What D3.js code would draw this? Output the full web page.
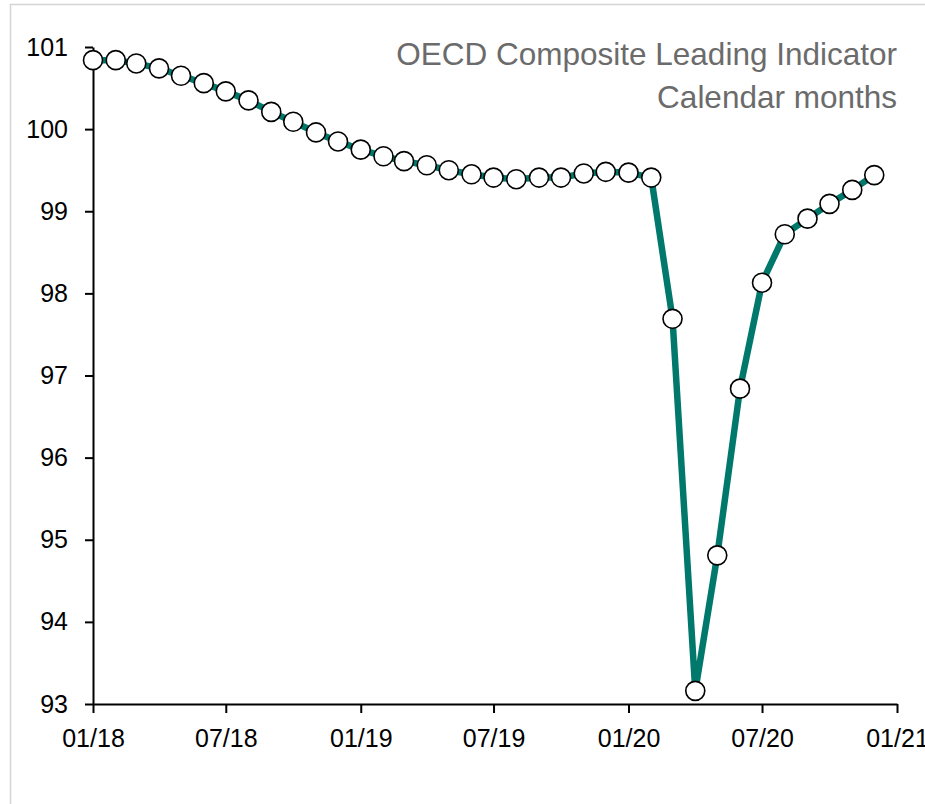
<!DOCTYPE html>
<html>
<head>
<meta charset="utf-8">
<script src="https://cdn.jsdelivr.net/npm/d3@7"></script>
<style>
  body { margin: 0; background: #fff; }
  svg { display: block; font-family: Arial, "Liberation Sans", sans-serif; }
</style>
</head>
<body>
<div id="chart"></div>
<script>
// monthly values, 01/2018 .. 12/2020
var startMonth = "2018-01";
var values = [100.84, 100.84, 100.80, 100.74, 100.65, 100.56, 100.46, 100.35, 100.21, 100.09,
              99.96, 99.85, 99.75, 99.67, 99.61, 99.56, 99.50, 99.45, 99.41, 99.39,
              99.41, 99.41, 99.46, 99.48, 99.47, 99.41, 97.69, 93.16, 94.81, 96.84,
              98.13, 98.72, 98.91, 99.09, 99.26, 99.44];
var xTicks = ["2018-01", "2018-07", "2019-01", "2019-07", "2020-01", "2020-07", "2021-01"];
var yTicks = [93, 94, 95, 96, 97, 98, 99, 100, 101];
var titleLines = ["OECD Composite Leading Indicator", "Calendar months"];

var w = 925, h = 804;
var parse = d3.timeParse("%Y-%m");
var start = parse(startMonth);
var data = values.map(function(v, i) {
    return { date: d3.timeMonth.offset(start, i), value: v };
});

var svg = d3.select("#chart").append("svg")
    .attr("width", w)
    .attr("height", h);

// card border
svg.append("rect")
    .attr("x", 10.5).attr("y", 4.5)
    .attr("width", 1000).attr("height", 1000)
    .attr("fill", "#fff")
    .attr("stroke", "#d4d4d4")
    .attr("stroke-width", 1.5);

var x = d3.scaleTime()
    .domain([parse(xTicks[0]), parse(xTicks[xTicks.length - 1])])
    .range([93, 897]);
var y = d3.scaleLinear()
    .domain([93, 101])
    .range([704, 47]);

// axes
var xAxis = svg.append("g")
    .attr("transform", "translate(0," + y(93) + ")")
    .call(d3.axisBottom(x)
        .tickValues(xTicks.map(parse))
        .tickFormat(d3.timeFormat("%m/%y"))
        .tickSize(9)
        .tickPadding(16)
        .tickSizeOuter(0));
xAxis.selectAll("text").attr("font-size", "25px").attr("fill", "#000").attr("font-family", "Arial, 'Liberation Sans', sans-serif");

var yAxis = svg.append("g")
    .attr("transform", "translate(" + x(parse(xTicks[0])) + ",0)")
    .call(d3.axisLeft(y)
        .tickValues(yTicks)
        .tickFormat(d3.format("d"))
        .tickSize(8)
        .tickPadding(17)
        .tickSizeOuter(0));
yAxis.selectAll("text").attr("font-size", "25px").attr("fill", "#000").attr("font-family", "Arial, 'Liberation Sans', sans-serif");

svg.selectAll(".domain, .tick line").attr("stroke", "#000").attr("stroke-width", 2);

// line
var line = d3.line()
    .x(function(d) { return x(d.date); })
    .y(function(d) { return y(d.value); });

svg.append("path")
    .datum(data)
    .attr("d", line)
    .attr("fill", "none")
    .attr("stroke", "#00786c")
    .attr("stroke-width", 6.5)
    .attr("stroke-linejoin", "round");

svg.selectAll("circle.pt")
    .data(data)
    .enter()
    .append("circle")
    .attr("class", "pt")
    .attr("cx", function(d) { return x(d.date); })
    .attr("cy", function(d) { return y(d.value); })
    .attr("r", 9.5)
    .attr("fill", "#fff")
    .attr("stroke", "#000")
    .attr("stroke-width", 1.6);

// title
svg.selectAll("text.title")
    .data(titleLines)
    .enter()
    .append("text")
    .attr("class", "title")
    .attr("x", 897)
    .attr("y", function(d, i) { return 65 + i * 43; })
    .attr("text-anchor", "end")
    .attr("font-size", "31.5px")
    .attr("fill", "#6b6b6b")
    .text(function(d) { return d; });
</script>
</body>
</html>
